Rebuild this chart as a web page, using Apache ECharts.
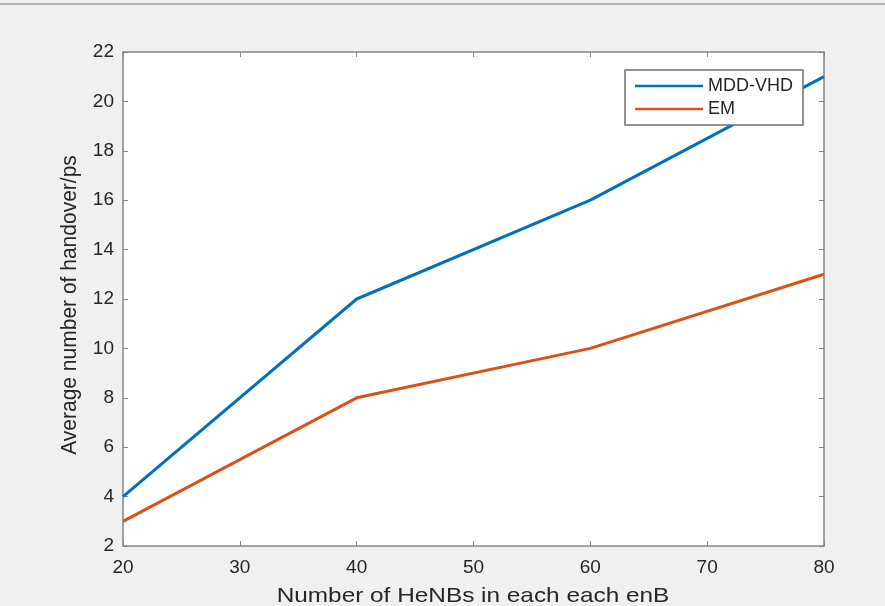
<!DOCTYPE html>
<html><head><meta charset="utf-8">
<script src="https://cdn.jsdelivr.net/npm/echarts@6/dist/echarts.min.js"></script>
<style>html,body{margin:0;padding:0;background:#f0f0f0}#c{width:885px;height:606px}</style>
</head><body><div id="c"></div>
<script>
const xValues = [20, 40, 60, 80];
const mddVhd = [4, 12, 16, 21];
const em = [3, 8, 10, 13];
const seriesNames = ['MDD-VHD', 'EM'];
const xTitle = 'Number of HeNBs in each each enB';
const yTitle = 'Average number of handover/ps';

const chart = echarts.init(document.getElementById('c'));
const font = 'Liberation Sans, Arial, sans-serif';
const axisCol = '#858585';
const txt = '#262626';
const common = {
  axisLine: {show: true, lineStyle: {color: axisCol, width: 1.5}},
  axisTick: {show: true, inside: true, length: 5, lineStyle: {color: axisCol, width: 1}},
  splitLine: {show: false}
};
chart.setOption({
  backgroundColor: '#f0f0f0',
  animation: false,
  graphic: [
    {type: 'line', shape: {x1: 0, y1: 4, x2: 885, y2: 4}, style: {stroke: '#a0a0a0', lineWidth: 1.5}},
    {type: 'text', x: 473, y: 596, scaleX: 1.16,
      style: {text: xTitle, fontFamily: font, fontSize: 21, fill: txt, align: 'center', verticalAlign: 'middle'}},
    {type: 'text', x: 70, y: 305, rotation: Math.PI / 2, scaleY: 1.08,
      style: {text: yTitle, fontFamily: font, fontSize: 21, fill: txt, align: 'center', verticalAlign: 'middle'}}
  ],
  grid: {left: 123, right: 61, top: 52, bottom: 60, show: true, backgroundColor: '#ffffff', borderWidth: 0},
  legend: {
    right: 82, top: 70, orient: 'vertical', data: seriesNames,
    backgroundColor: '#ffffff', borderColor: '#707070', borderWidth: 1.5, borderRadius: 0,
    padding: [7, 10, 7, 10], itemGap: 5, itemWidth: 68, itemHeight: 18,
    icon: 'path://M0,8L68,8L68,10.5L0,10.5Z',
    textStyle: {fontFamily: font, fontSize: 18, color: txt}
  },
  xAxis: [
    Object.assign({type: 'value', min: 20, max: 80, interval: 10, position: 'bottom',
      axisLabel: {fontFamily: font, fontSize: 19, color: txt, margin: 12}}, common),
    Object.assign({type: 'value', min: 20, max: 80, interval: 10, position: 'top', axisLabel: {show: false}}, common)
  ],
  yAxis: [
    Object.assign({type: 'value', min: 2, max: 22, interval: 2, position: 'left',
      axisLabel: {fontFamily: font, fontSize: 19, color: txt, margin: 9}}, common),
    Object.assign({type: 'value', min: 2, max: 22, interval: 2, position: 'right', axisLabel: {show: false}}, common)
  ],
  series: [
    {name: seriesNames[0], type: 'line', data: xValues.map((x, i) => [x, mddVhd[i]]), showSymbol: false,
      lineStyle: {color: '#0072BD', width: 3}, itemStyle: {color: '#0072BD'}},
    {name: seriesNames[1], type: 'line', data: xValues.map((x, i) => [x, em[i]]), showSymbol: false,
      lineStyle: {color: '#D95319', width: 3}, itemStyle: {color: '#D95319'}}
  ]
});
</script></body></html>
